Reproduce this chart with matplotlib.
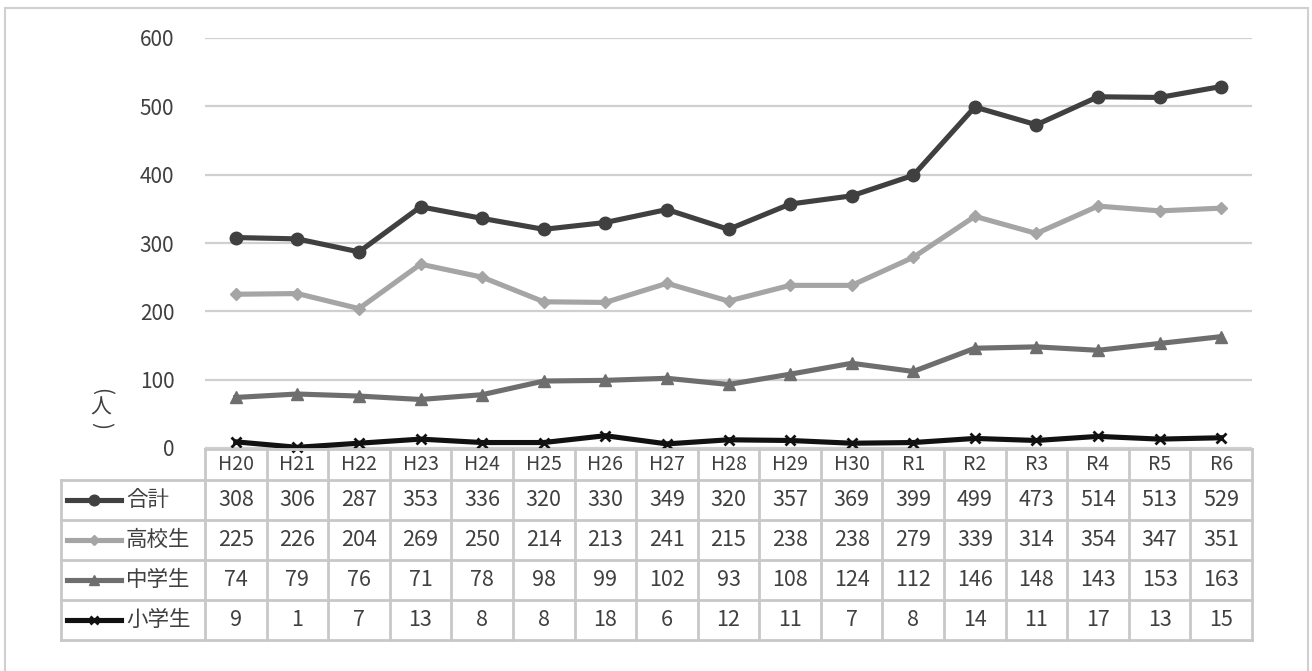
import matplotlib.pyplot as plt
from matplotlib.lines import Line2D

plt.rcParams['font.family'] = ['Noto Sans CJK JP', 'DejaVu Sans']

years = ['H20', 'H21', 'H22', 'H23', 'H24', 'H25', 'H26', 'H27', 'H28',
         'H29', 'H30', 'R1', 'R2', 'R3', 'R4', 'R5', 'R6']
total = [308, 306, 287, 353, 336, 320, 330, 349, 320, 357, 369, 399, 499, 473, 514, 513, 529]
high = [225, 226, 204, 269, 250, 214, 213, 241, 215, 238, 238, 279, 339, 314, 354, 347, 351]
middle = [74, 79, 76, 71, 78, 98, 99, 102, 93, 108, 124, 112, 146, 148, 143, 153, 163]
elem = [9, 1, 7, 13, 8, 8, 18, 6, 12, 11, 7, 8, 14, 11, 17, 13, 15]

series_names = ['合計', '高校生', '中学生', '小学生']
series_vals = [total, high, middle, elem]
colors = ['#404040', '#A5A5A5', '#6E6E6E', '#111111']
markers = ['o', 'D', '^', 'x']
msizes = [9, 6, 8, 6.5]

W, H = 1312, 671
fig = plt.figure(figsize=(W / 100, H / 100), dpi=100)


def fx(px):
    return px / W


def fy(py):
    return 1 - py / H


# outer frame
fig.add_artist(plt.Rectangle((fx(5), fy(700)), fx(1308) - fx(5), fy(8) - fy(700),
                             fill=False, edgecolor='#D0D0D0', linewidth=1.5,
                             transform=fig.transFigure))

left, right, top, bottom = 205, 1252, 38, 448
ax = fig.add_axes([fx(left), fy(bottom), fx(right) - fx(left), fy(top) - fy(bottom)])
n = len(years)
x = list(range(n))
for vals, c, m, ms in zip(series_vals, colors, markers, msizes):
    ax.plot(x, vals, color=c, linewidth=3.7, marker=m, markersize=ms,
            markeredgewidth=2 if m == 'x' else 1, markeredgecolor=c,
            clip_on=False, zorder=3, solid_joinstyle='round')
ax.set_xlim(-0.5, n - 0.5)
ax.set_ylim(0, 600)
ax.set_yticks(range(0, 601, 100))
ax.yaxis.grid(True, color='#D0D0D0', linewidth=1.6)
ax.set_axisbelow(True)
ax.set_xticks([])
for s in ax.spines.values():
    s.set_visible(False)
ax.tick_params(axis='y', length=0, pad=22, labelsize=15, labelcolor='#404040')

# y label (vertical brackets drawn as rotated parentheses)
fig.text(fx(101), fy(391), '(', ha='center', va='center', fontsize=15,
         color='#404040', rotation=-90)
fig.text(fx(101), fy(408), '人', ha='center', va='center', fontsize=15, color='#404040')
fig.text(fx(101), fy(425), ')', ha='center', va='center', fontsize=15,
         color='#404040', rotation=-90)

# data table
grid_c = '#C8C8C8'
col_w = (right - left) / n
rows = [449, 480, 520, 560, 600, 640]
leg_left = 61


def hline(y, x0, x1):
    fig.add_artist(Line2D([fx(x0), fx(x1)], [fy(y), fy(y)], color=grid_c, linewidth=2,
                          transform=fig.transFigure))


def vline(xp, y0, y1):
    fig.add_artist(Line2D([fx(xp), fx(xp)], [fy(y0), fy(y1)], color=grid_c, linewidth=2,
                          transform=fig.transFigure))


hline(rows[0], left, right)
for r in rows[1:]:
    hline(r, leg_left, right)
vline(leg_left, rows[1], rows[-1])
for i in range(n + 1):
    vline(left + i * col_w, rows[0], rows[-1])

for i, yr in enumerate(years):
    cx = left + (i + 0.5) * col_w
    fig.text(fx(cx), fy((rows[0] + rows[1]) / 2), yr, ha='center', va='center',
             fontsize=14, color='#404040')

for j, (name, vals, c, m, ms) in enumerate(zip(series_names, series_vals, colors, markers, msizes)):
    cy = (rows[j + 1] + rows[j + 2]) / 2
    fig.add_artist(Line2D([fx(67), fx(121)], [fy(cy), fy(cy)], color=c, linewidth=3.7,
                          transform=fig.transFigure))
    fig.add_artist(Line2D([fx(94)], [fy(cy)], color=c, marker=m, markersize=ms * 0.85,
                          markeredgecolor=c, markeredgewidth=2 if m == 'x' else 1,
                          linestyle='none', transform=fig.transFigure))
    fig.text(fx(126), fy(cy), name, ha='left', va='center', fontsize=15.5, color='#404040')
    for i, v in enumerate(vals):
        cx = left + (i + 0.5) * col_w
        fig.text(fx(cx), fy(cy), str(v), ha='center', va='center', fontsize=15.5,
                 color='#404040')

fig.savefig('out.png', dpi=100, facecolor='white')
